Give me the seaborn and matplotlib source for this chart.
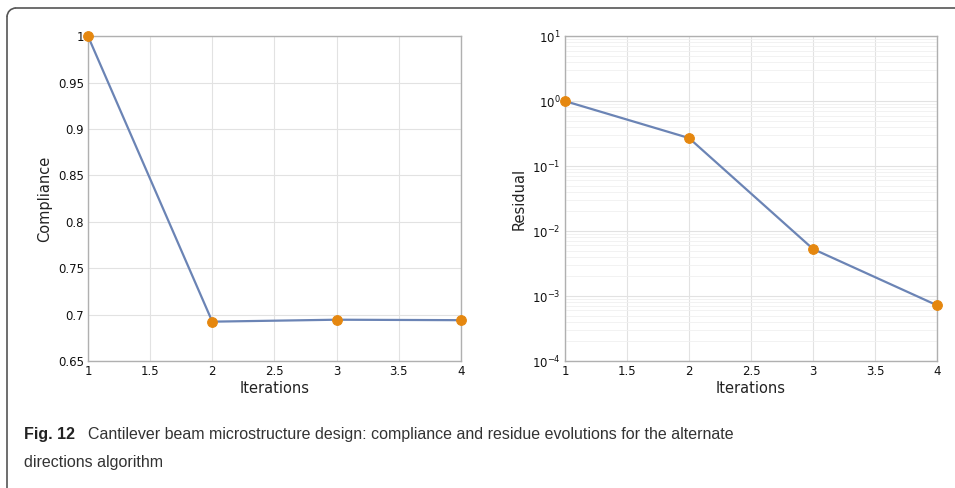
import numpy as np
import pandas as pd
import seaborn as sns
import matplotlib.pyplot as plt
from matplotlib.lines import Line2D
from matplotlib.patches import Arc

# data
iterations = [1, 2, 3, 4]
compliance = [1.0, 0.6924, 0.6945, 0.694]
residual = [1.0, 0.27, 0.0053, 0.00072]

df = pd.DataFrame({"Iterations": iterations, "Compliance": compliance, "Residual": residual})

sns.set_theme(style="whitegrid")
plt.rcParams['font.family'] = ['DejaVu Sans']

line_col = "#6b84b5"
mark_col = "#e5870f"

fig = plt.figure(figsize=(9.55, 4.88), dpi=100)
ax1 = fig.add_axes([0.0921, 0.2602, 0.3906, 0.6658])
ax2 = fig.add_axes([0.5916, 0.2602, 0.3896, 0.6658])

for ax, col in [(ax1, "Compliance"), (ax2, "Residual")]:
    sns.lineplot(data=df, x="Iterations", y=col, ax=ax, color=line_col, linewidth=1.6,
                 marker="o", markersize=7, markerfacecolor=mark_col, markeredgecolor=mark_col,
                 zorder=3, clip_on=False)
    ax.set_xlim(1, 4)
    ax.set_xticks([1, 1.5, 2, 2.5, 3, 3.5, 4])
    ax.set_xticklabels(["1", "1.5", "2", "2.5", "3", "3.5", "4"])
    ax.set_xlabel("Iterations", fontsize=10.5, labelpad=2, color="#222222")
    ax.set_ylabel(col, fontsize=10.5, labelpad=4, color="#222222")
    ax.tick_params(axis="both", labelsize=8.5, labelcolor="#111111", direction="in",
                   length=3, color="#999999", pad=3)
    ax.grid(True, color="#e2e2e2", linewidth=0.8)
    for s in ax.spines.values():
        s.set_color("#b0b0b0")
        s.set_linewidth(1.0)
    ax.set_facecolor("white")

ax1.set_ylim(0.65, 1.0)
ax1.set_yticks([0.65, 0.7, 0.75, 0.8, 0.85, 0.9, 0.95, 1])
ax1.set_yticklabels(["0.65", "0.7", "0.75", "0.8", "0.85", "0.9", "0.95", "1"])

ax2.set_yscale("log")
ax2.set_ylim(1e-4, 10)
ax2.set_yticks([1e-4, 1e-3, 1e-2, 1e-1, 1, 10])
ax2.grid(True, which="minor", axis="y", color="#f0f0f0", linewidth=0.6)
ax2.tick_params(axis="y", which="minor", length=0)

# caption box border (rounded top-left corner)
r = 9
w, h = 955, 488
edge = "#555555"
fig.add_artist(Line2D([(7 + r) / w, 1.0], [1 - 8 / h, 1 - 8 / h], transform=fig.transFigure,
                      color=edge, linewidth=1.2))
fig.add_artist(Line2D([7 / w, 7 / w], [1 - (8 + r) / h, 0.0], transform=fig.transFigure,
                      color=edge, linewidth=1.2))
fig.add_artist(Arc(((7 + r) / w, 1 - (8 + r) / h), 2 * r / w, 2 * r / h, theta1=90, theta2=180,
                   transform=fig.transFigure, color=edge, linewidth=1.2))

cap_font = ['Liberation Sans', 'DejaVu Sans']
fig.text(24 / w, 1 - 439 / h, "Fig. 12", fontsize=11.5, fontweight="bold", family=cap_font,
         va="baseline", color="#222222")
fig.text(88 / w, 1 - 439 / h,
         "Cantilever beam microstructure design: compliance and residue evolutions for the alternate",
         fontsize=11.5, family=cap_font, va="baseline", color="#333333")
fig.text(24 / w, 1 - 467 / h, "directions algorithm", fontsize=11.5, family=cap_font,
         va="baseline", color="#333333")

fig.savefig("out.png", dpi=100)
